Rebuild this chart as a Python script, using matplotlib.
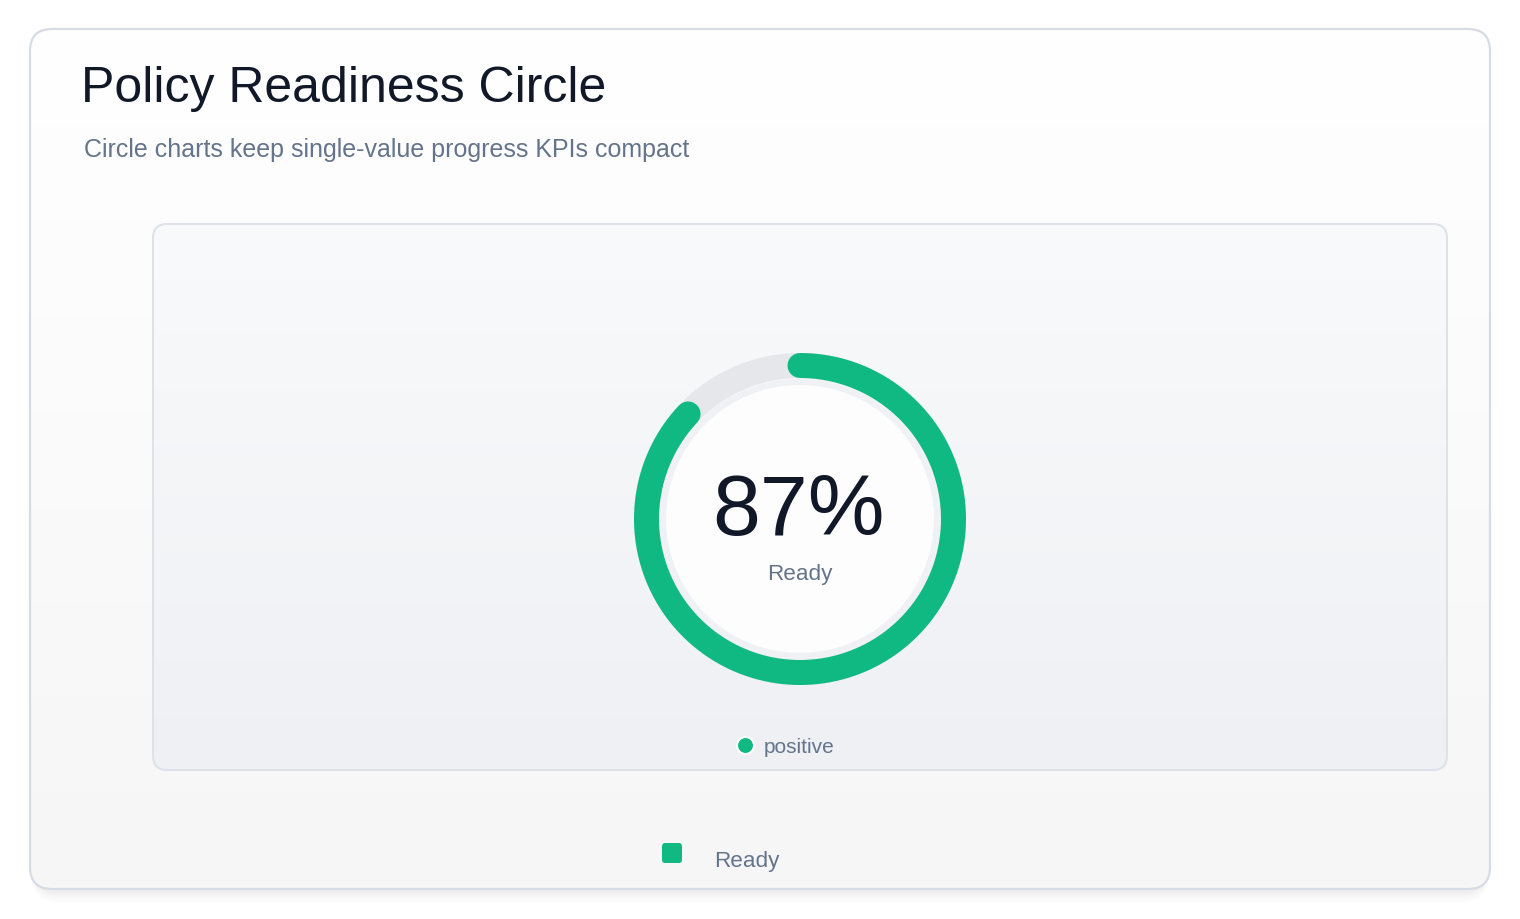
import numpy as np
import matplotlib
matplotlib.use("Agg")
import matplotlib.pyplot as plt
from matplotlib.patches import FancyBboxPatch, Circle

# ---- data ----
title = "Policy Readiness Circle"
subtitle = "Circle charts keep single-value progress KPIs compact"
value = 87            # percent
center_label = "Ready"
status_label = "positive"
legend_labels = ["Ready"]

GREEN = "#10b981"
TRACK = "#e5e7eb"
DARK = "#111827"
SLATE = "#64748b"

plt.rcParams['font.family'] = ['Liberation Sans', 'DejaVu Sans']

W, H = 1520, 920
fig = plt.figure(figsize=(W / 100, H / 100), dpi=100)
fig.patch.set_facecolor("white")
ax = fig.add_axes([0, 0, 1, 1])
ax.set_xlim(0, W)
ax.set_ylim(H, 0)
ax.axis("off")


def rounded(x0, y0, x1, y1, r, **kw):
    p = FancyBboxPatch((x0 + r, y0 + r), (x1 - x0) - 2 * r, (y1 - y0) - 2 * r,
                       boxstyle=f"round,pad={r}", **kw)
    ax.add_patch(p)
    return p


def gradient(patch, x0, y0, x1, y1, c_top, c_bot, z):
    ct = np.array(matplotlib.colors.to_rgb(c_top))
    cb = np.array(matplotlib.colors.to_rgb(c_bot))
    t = np.linspace(0, 1, 256)[:, None, None]
    arr = ct * (1 - t) + cb * t
    arr = np.repeat(arr, 2, axis=1)
    im = ax.imshow(arr, extent=[x0, x1, y1, y0], origin="upper",
                   aspect="auto", zorder=z, interpolation="bilinear")
    im.set_clip_path(patch)


# outer card shadow (soft, below)
for i, a in enumerate([0.018, 0.015, 0.012, 0.01, 0.008]):
    off = 4 + i * 2.5
    rounded(34, 30 + off, 1486, 890 + off, 22, fc="#000000", ec="none",
            alpha=a, zorder=0.5)

# outer card
card_bg = rounded(30, 30, 1490, 890, 22, fc="#ffffff", ec="none", zorder=0.9)
gradient(card_bg, 30, 30, 1490, 890, "#ffffff", "#f6f6f7", 1)
rounded(30, 30, 1490, 890, 22, fc="none", ec="#d6dbe4", lw=1.6, zorder=2)

# inner panel
panel_bg = rounded(153, 225, 1447, 771, 14, fc="#f5f6f8", ec="none", zorder=2.5)
gradient(panel_bg, 153, 225, 1447, 771, "#f9fafb", "#eef0f4", 2.6)
rounded(153, 225, 1447, 771, 14, fc="none", ec="#dde1e8", lw=1.4, zorder=2.8)

# titles
ax.text(81, 102, title, fontsize=36, color=DARK, va="baseline", ha="left", zorder=5)
ax.text(84, 157, subtitle, fontsize=18, color=SLATE, va="baseline", ha="left", zorder=5)

# inner disc of the ring
cx, cy = 800, 520
ax.add_patch(Circle((cx, cy), 140, fc="#eff1f5", ec="none", zorder=3))
ax.add_patch(Circle((cx, cy), 134, fc="#fdfdfd", ec="none", zorder=3.1))

# ring (polar axes)
R = 175
pax = fig.add_axes([(cx - R) / W, (H - cy - R) / H, 2 * R / W, 2 * R / H],
                   projection="polar", zorder=4)
pax.set_theta_zero_location("N")
pax.set_theta_direction(-1)
pax.set_ylim(0, 1)
pax.axis("off")
pax.patch.set_visible(False)
r_mid = 153.5 / R
lw = 25 * 72 / 100
th_full = np.linspace(0, 2 * np.pi, 600)
pax.plot(th_full, np.full_like(th_full, r_mid), color=TRACK, lw=lw,
         solid_capstyle="butt")
th = np.linspace(0, 2 * np.pi * value / 100, 600)
pax.plot(th, np.full_like(th, r_mid), color=GREEN, lw=lw, solid_capstyle="round")

# center texts
ax.text(cx - 2, 535, f"{value}%", fontsize=62, color=DARK, ha="center",
        va="baseline", zorder=6)
ax.text(cx, 580, center_label, fontsize=16.2, color=SLATE, ha="center",
        va="baseline", zorder=6)

# status legend inside panel
ax.scatter([745], [746], s=150, color=GREEN, edgecolor="white", linewidth=1.5, zorder=6)
ax.text(764, 753, status_label, fontsize=15, color=SLATE, ha="left",
        va="baseline", zorder=6)

# bottom legend
for lab in legend_labels:
    rounded(662, 844, 682, 864, 3, fc=GREEN, ec="none", zorder=6)
    ax.text(714, 867, lab, fontsize=16.2, color=SLATE, ha="left",
            va="baseline", zorder=6)

fig.savefig("out.png", dpi=100, facecolor="white")
